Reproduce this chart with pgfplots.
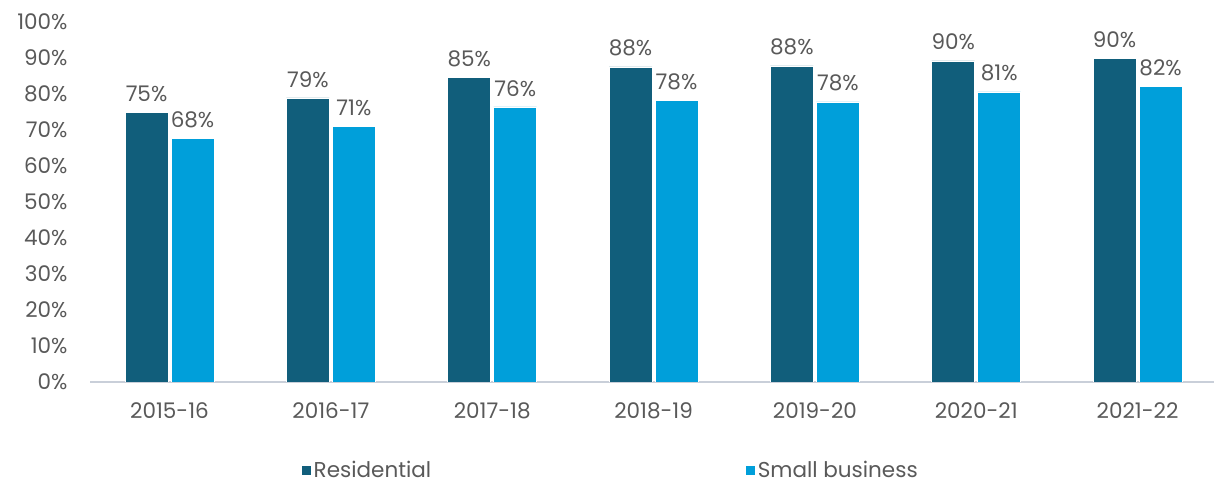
\documentclass[border=0pt]{standalone}
\usepackage{fontspec}
\setmainfont{Poppins}
\usepackage{pgfplots}
\usepackage{pgfplotstable}
\pgfplotsset{compat=1.18}
\definecolor{resid}{HTML}{115E7B}
\definecolor{smallb}{HTML}{009FDA}
\definecolor{txt}{HTML}{595959}
\definecolor{axl}{HTML}{C9CFD9}
\pgfplotstableread{
x res reslab sb sblab
0 74.8 75 67.7 68
1 78.9 79 71.1 71
2 84.7 85 76.4 76
3 87.5 88 78.3 78
4 87.8 88 77.8 78
5 89.2 90 80.6 81
6 89.8 90 82.0 82
}\datatab
\begin{document}
\begin{tikzpicture}
\useasboundingbox (0,0) rectangle (1214bp,486bp);
\begin{axis}[
  at={(90bp,104bp)}, anchor=south west,
  scale only axis, width=1124bp, height=360bp,
  xmin=-0.493, xmax=6.474, ymin=0, ymax=100,
  axis x line=bottom, axis y line=left,
  x axis line style={draw=axl, line width=2bp, -},
  y axis line style={draw=none},
  major tick length=0pt,
  ytick={0,10,...,100},
  xtick={0,...,6},
  xticklabels={2015-16,2016-17,2017-18,2018-19,2019-20,2020-21,2021-22},
  yticklabel={\pgfmathprintnumber{\tick}\%},
  /pgf/number format/assume math mode=true,
  tick label style={font=\fontsize{21.5bp}{24bp}\selectfont, text=txt},
  yticklabel style={xshift=-19bp},
  xticklabel style={yshift=-17bp},
  ybar=3bp, bar width=43bp,
  nodes near coords={\pgfplotspointmeta\%},
  point meta=explicit symbolic,
  every node near coord/.append style={font=\fontsize{21.5bp}{24bp}\selectfont, text=txt, yshift=7bp},
  legend style={at={(0.185,-0.245)}, anchor=west, draw=none, fill=none,
    font=\fontsize{21.5bp}{24bp}\selectfont, text=txt,
    /tikz/every even column/.append style={column sep=312bp}},
  legend columns=2,
  legend image code/.code={\fill[#1] (-4bp,-5bp) rectangle (6bp,5bp);},
]
\addplot[fill=resid, draw=white, line width=0.6bp] table[x=x, y=res, meta=reslab] {\datatab};
\addplot[fill=smallb, draw=white, line width=0.6bp] table[x=x, y=sb, meta=sblab] {\datatab};
\legend{Residential, Small business}
\end{axis}
\end{tikzpicture}
\end{document}
